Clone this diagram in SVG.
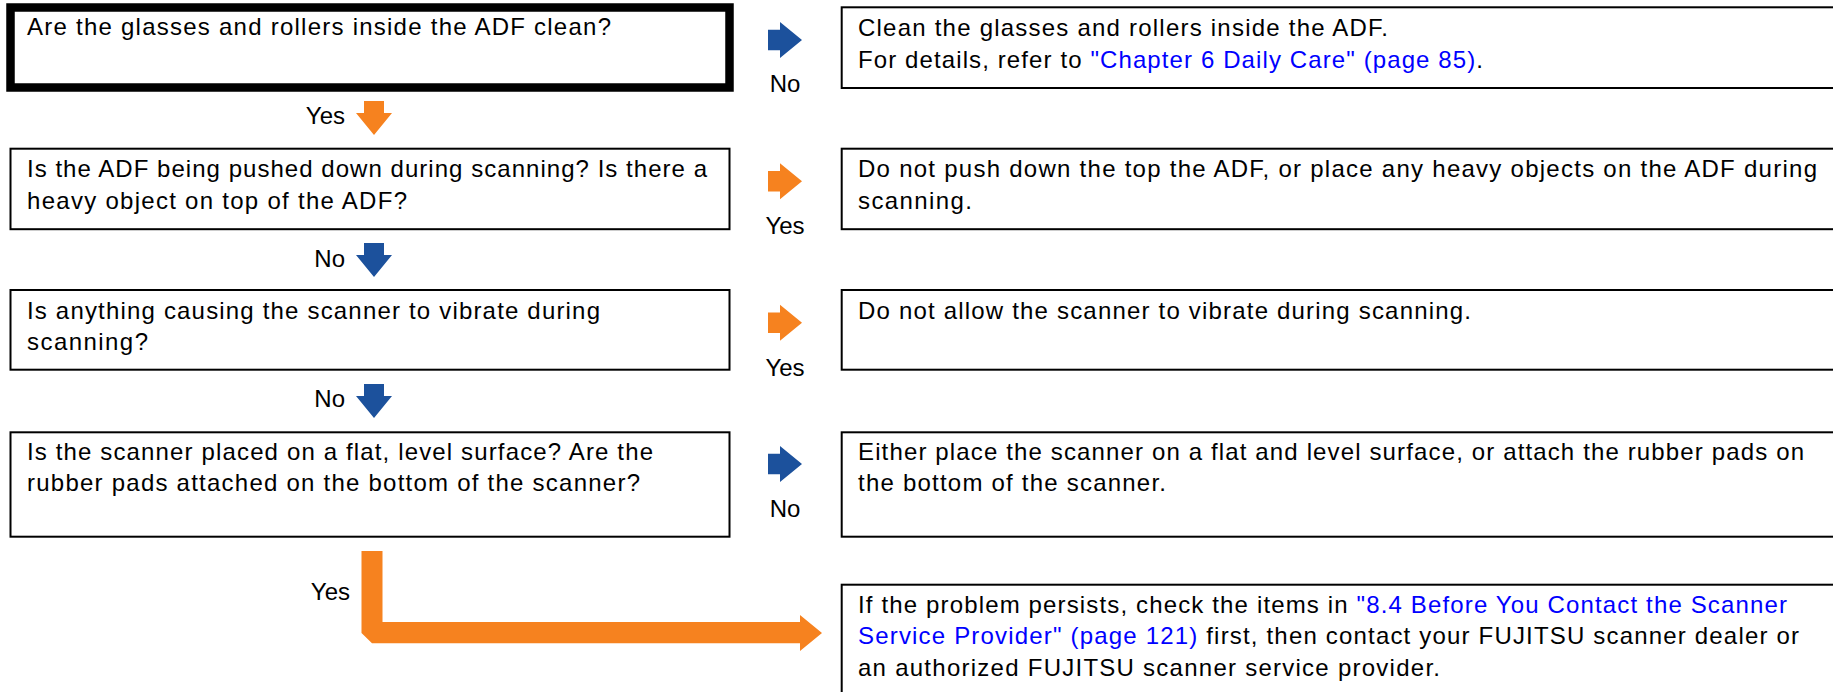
<svg xmlns="http://www.w3.org/2000/svg" width="1833" height="692" viewBox="0 0 1833 692">
<style>
.box{fill:#fff;stroke:#000;stroke-width:2}
.hl{fill:#fff;stroke:#000;stroke-width:8.5}
text{font-family:"Liberation Sans",Arial,Helvetica,sans-serif;font-size:24px;fill:#000}
.lnk{fill:#0000ff}
.or{fill:#f6821f}
.bl{fill:#1c519c}
.lbl{text-anchor:middle}
.lbr{text-anchor:end}
</style>
<defs>
<path id="ra" d="M0,-10.3 H12 V-18 L34,0 L12,18 V10.3 H0 Z"/>
<path id="da" d="M-10,0 H10 V12 H18 L0,34 L-18,12 H-10 Z"/>
</defs>
<g id="q1">
<rect class="hl" x="10.5" y="7.5" width="719" height="80"/>
<text x="27" y="35" textLength="584" lengthAdjust="spacing">Are the glasses and rollers inside the ADF clean?</text>
</g>
<g id="q2">
<rect class="box" x="10.5" y="148.7" width="719" height="80.5"/>
<text x="27" y="176.7" textLength="680" lengthAdjust="spacing">Is the ADF being pushed down during scanning? Is there a</text>
<text x="27" y="208.5" textLength="380" lengthAdjust="spacing">heavy object on top of the ADF?</text>
</g>
<g id="q3">
<rect class="box" x="10.5" y="290" width="719" height="79.7"/>
<text x="27" y="318.5" textLength="573" lengthAdjust="spacing">Is anything causing the scanner to vibrate during</text>
<text x="27" y="350.2" textLength="121" lengthAdjust="spacing">scanning?</text>
</g>
<g id="q4">
<rect class="box" x="10.5" y="432.3" width="719" height="104.4"/>
<text x="27" y="460" textLength="626" lengthAdjust="spacing">Is the scanner placed on a flat, level surface? Are the</text>
<text x="27" y="491" textLength="613" lengthAdjust="spacing">rubber pads attached on the bottom of the scanner?</text>
</g>
<g id="a1">
<rect class="box" x="841.7" y="7.3" width="1100" height="80.7"/>
<text x="858" y="35.5" textLength="530" lengthAdjust="spacing">Clean the glasses and rollers inside the ADF.</text>
<text x="858" y="67.5" textLength="625" lengthAdjust="spacing">For details, refer to <tspan class="lnk">"Chapter 6 Daily Care" (page 85)</tspan>.</text>
</g>
<g id="a2">
<rect class="box" x="841.7" y="148.7" width="1100" height="80.5"/>
<text x="858" y="176.7" textLength="959" lengthAdjust="spacing">Do not push down the top the ADF, or place any heavy objects on the ADF during</text>
<text x="858" y="208.5" textLength="114" lengthAdjust="spacing">scanning.</text>
</g>
<g id="a3">
<rect class="box" x="841.7" y="290" width="1100" height="79.7"/>
<text x="858" y="318.5" textLength="613" lengthAdjust="spacing">Do not allow the scanner to vibrate during scanning.</text>
</g>
<g id="a4">
<rect class="box" x="841.7" y="432.3" width="1100" height="104.4"/>
<text x="858" y="460" textLength="946" lengthAdjust="spacing">Either place the scanner on a flat and level surface, or attach the rubber pads on</text>
<text x="858" y="491" textLength="308" lengthAdjust="spacing">the bottom of the scanner.</text>
</g>
<g id="a5">
<rect class="box" x="841.7" y="584.7" width="1100" height="200"/>
<text x="858" y="612.7" textLength="929" lengthAdjust="spacing">If the problem persists, check the items in <tspan class="lnk">"8.4 Before You Contact the Scanner</tspan></text>
<text x="858" y="644.3" textLength="941" lengthAdjust="spacing"><tspan class="lnk">Service Provider" (page 121)</tspan> first, then contact your FUJITSU scanner dealer or</text>
<text x="858" y="676" textLength="582" lengthAdjust="spacing">an authorized FUJITSU scanner service provider.</text>
</g>
<g id="connectors">
<use href="#ra" class="bl" x="768" y="40"/>
<text class="lbl" x="785" y="92.3">No</text>
<use href="#ra" class="or" x="768" y="181.3"/>
<text class="lbl" x="785" y="234">Yes</text>
<use href="#ra" class="or" x="768" y="322.7"/>
<text class="lbl" x="785" y="376">Yes</text>
<use href="#ra" class="bl" x="768" y="464"/>
<text class="lbl" x="785" y="516.7">No</text>
<use href="#da" class="or" x="374" y="101"/>
<text class="lbr" x="345" y="124">Yes</text>
<use href="#da" class="bl" x="374" y="243"/>
<text class="lbr" x="345" y="266.5">No</text>
<use href="#da" class="bl" x="374" y="384"/>
<text class="lbr" x="345" y="407.3">No</text>
<path class="or" d="M382.5,551 H361.5 V633 L372,643.3 H800 V651 L822,633 L800,615 V622 H382.5 Z"/>
<text class="lbr" x="350" y="600">Yes</text>
</g>
</svg>
